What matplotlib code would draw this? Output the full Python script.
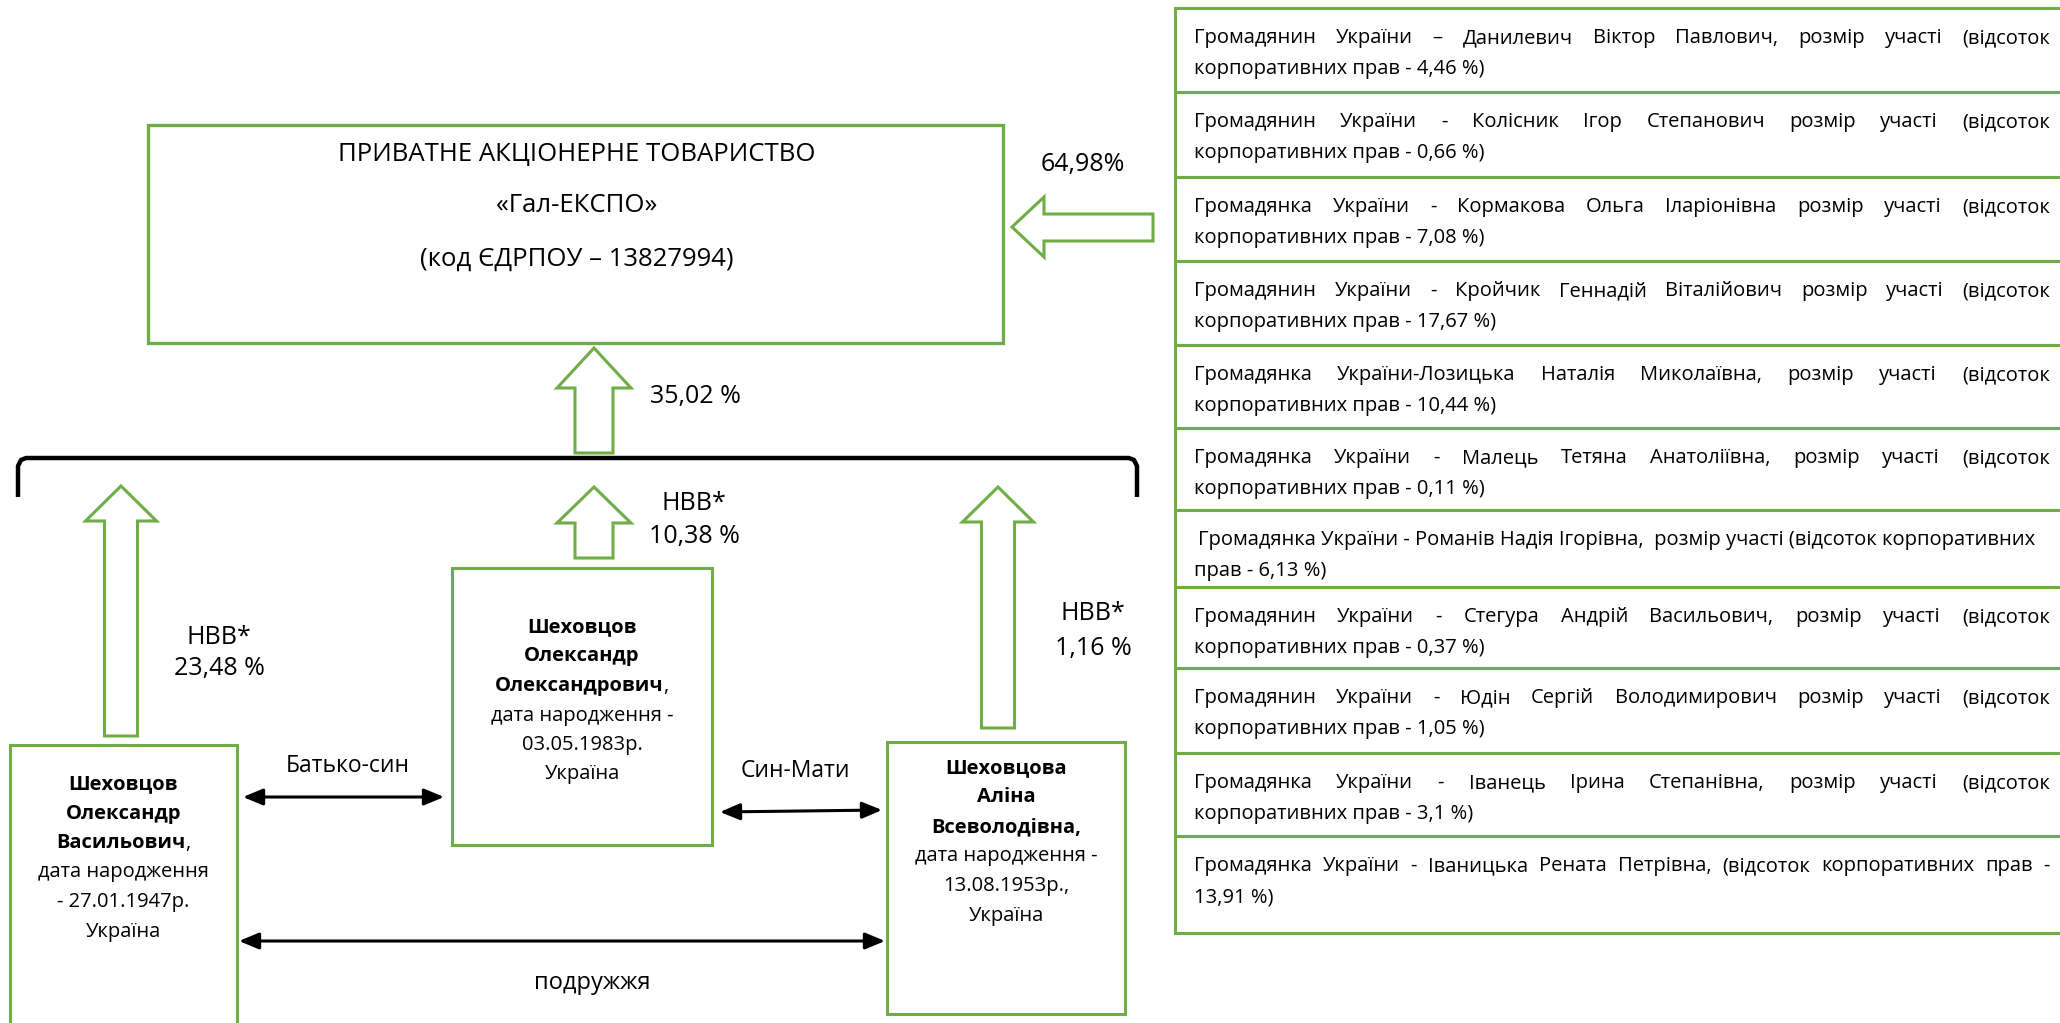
import matplotlib
matplotlib.use('Agg')
import matplotlib.pyplot as plt
from matplotlib.patches import Rectangle, Polygon

plt.rcParams['font.family'] = ['Open Sans', 'DejaVu Sans']

GREEN = '#70AD47'

# chart content
company_lines = ['ПРИВАТНЕ АКЦІОНЕРНЕ ТОВАРИСТВО', '«Гал-ЕКСПО»', '(код ЄДРПОУ – 13827994)']
other_share = '64,98%'
family_share = '35,02 %'

person_names = [['Шеховцов', 'Олександр', 'Васильович'],
                ['Шеховцов', 'Олександр', 'Олександрович'],
                ['Шеховцова', 'Аліна', 'Всеволодівна,']]
person_details = [['дата народження', '- 27.01.1947р.', 'Україна'],
                  ['дата народження -', '03.05.1983р.', 'Україна'],
                  ['дата народження -', '13.08.1953р.,', 'Україна']]
person_shares = ['23,48 %', '10,38 %', '1,16 %']
share_note = 'НВВ*'
relations = ['Батько-син', 'Син-Мати', 'подружжя']

holder_line1 = [
    'Громадянин України – Данилевич Віктор Павлович, розмір участі (відсоток',
    'Громадянин України - Колісник Ігор Степанович розмір участі (відсоток',
    'Громадянка України - Кормакова Ольга Іларіонівна розмір участі (відсоток',
    'Громадянин України - Кройчик Геннадій Віталійович розмір участі (відсоток',
    'Громадянка України-Лозицька Наталія Миколаївна, розмір участі (відсоток',
    'Громадянка України - Малець Тетяна Анатоліївна, розмір участі (відсоток',
    'Громадянка України - Романів Надія Ігорівна,  розмір участі (відсоток корпоративних',
    'Громадянин України - Стегура Андрій Васильович, розмір участі (відсоток',
    'Громадянин України - Юдін Сергій Володимирович розмір участі (відсоток',
    'Громадянка України - Іванець Ірина Степанівна, розмір участі (відсоток',
    'Громадянка України - Іваницька Рената Петрівна,  (відсоток корпоративних прав -',
]
holder_line2 = [
    'корпоративних прав - 4,46 %)',
    'корпоративних прав - 0,66 %)',
    'корпоративних прав - 7,08 %)',
    'корпоративних прав - 17,67 %)',
    'корпоративних прав - 10,44 %)',
    'корпоративних прав - 0,11 %)',
    'прав - 6,13 %)',
    'корпоративних прав - 0,37 %)',
    'корпоративних прав - 1,05 %)',
    'корпоративних прав - 3,1 %)',
    '13,91 %)',
]
holder_justified = [True, True, True, True, True, True, False, True, True, True, True]

# layout (pixels)
holder_tops = [8, 92, 177, 261, 345, 428, 510, 587, 668, 753, 836, 933]
person_boxes = [(10, 745, 237, 1040), (452, 568, 712, 845), (887, 742, 1125, 1014)]
person_text_y = [784, 627, 768]
LINE = 29.5
BODY = 14.5
BIG = 18

fig = plt.figure(figsize=(20.6, 10.23), dpi=100)
ax = fig.add_axes([0, 0, 1, 1])
ax.set_xlim(0, 2060)
ax.set_ylim(1023, 0)
ax.axis('off')
renderer = fig.canvas.get_renderer()


def box(x0, y0, x1, y1, lw=2.2):
    ax.add_patch(Rectangle((x0, y0), x1 - x0, y1 - y0, fc='white', ec=GREEN, lw=lw))


def up_arrow(cx, tip, base, bottom, head_w, shaft_w):
    pts = [(cx, tip), (cx + head_w / 2, base), (cx + shaft_w / 2, base),
           (cx + shaft_w / 2, bottom), (cx - shaft_w / 2, bottom),
           (cx - shaft_w / 2, base), (cx - head_w / 2, base)]
    ax.add_patch(Polygon(pts, closed=True, fc='white', ec=GREEN, lw=2.2, joinstyle='miter'))


def both_arrow(x0, x1, y0, y1):
    ax.annotate('', xy=(x1, y1), xytext=(x0, y0),
                arrowprops=dict(arrowstyle='<|-|>,head_length=0.6,head_width=0.25',
                                color='black', lw=2.2, mutation_scale=20,
                                shrinkA=0, shrinkB=0))


def width(t):
    return t.get_window_extent(renderer).width


def justify(text, x0, x1, y, size):
    words = text.split()
    items = [ax.text(0, y, w, fontsize=size, va='center', ha='left') for w in words]
    widths = [width(t) for t in items]
    gap = (x1 - x0 - sum(widths)) / (len(words) - 1)
    x = x0
    for t, w in zip(items, widths):
        t.set_x(x)
        x += w + gap


# company box
box(148, 125, 1003, 343, lw=2.4)
for text, y in zip(company_lines, [154, 206, 259]):
    ax.text(577, y, text, fontsize=18.5, ha='center', va='center')

# arrow from other holders
pts = [(1012, 227), (1044, 197), (1044, 214), (1153, 214),
       (1153, 241), (1044, 241), (1044, 257)]
ax.add_patch(Polygon(pts, closed=True, fc='white', ec=GREEN, lw=2.2, joinstyle='miter'))
ax.text(1083, 164, other_share, fontsize=BIG, ha='center', va='center')

# family arrow and brace
up_arrow(594, 348, 388, 453, 74, 38)
ax.text(695, 397, family_share, fontsize=BIG, ha='center', va='center')
bx = [18, 18, 21, 26, 1129, 1134, 1137, 1137]
by = [497, 466, 460, 458, 458, 460, 466, 497]
ax.plot(bx, by, color='black', lw=3.2, solid_joinstyle='round', solid_capstyle='butt')

# persons
up_arrow(121, 486, 521, 736, 71, 33)
up_arrow(594, 487, 523, 558, 74, 38)
up_arrow(998, 487, 522, 728, 71, 33)
share_pos = [(219, 637, 669), (694, 503, 536), (1093, 613, 649)]
for share, (x, y0, y1) in zip(person_shares, share_pos):
    ax.text(x, y0, share_note, fontsize=BIG, ha='center', va='center')
    ax.text(x, y1, share, fontsize=BIG, ha='center', va='center')

for (x0, y0, x1, y1), names, details, ty in zip(person_boxes, person_names,
                                                 person_details, person_text_y):
    box(x0, y0, x1, y1)
    cx = (x0 + x1) / 2
    for i, line in enumerate(names):
        y = ty + i * LINE
        if i == len(names) - 1 and not line.endswith(','):
            # bold name followed by a regular comma
            tb = ax.text(0, y, line, fontsize=BODY, fontweight='bold', ha='left', va='center')
            tc = ax.text(0, y, ',', fontsize=BODY, ha='left', va='center')
            wb = width(tb)
            start = cx - (wb + width(tc)) / 2
            tb.set_x(start)
            tc.set_x(start + wb)
        else:
            ax.text(cx, y, line, fontsize=BODY, fontweight='bold', ha='center', va='center')
    for i, line in enumerate(details):
        ax.text(cx, ty + (i + len(names)) * LINE, line, fontsize=BODY,
                ha='center', va='center')

both_arrow(243, 444, 797, 797)
ax.text(348, 766, relations[0], fontsize=16.5, ha='center', va='center')
both_arrow(720, 882, 812, 810)
ax.text(795, 771, relations[1], fontsize=16.5, ha='center', va='center')
both_arrow(239, 885, 941, 941)
ax.text(592, 983, relations[2], fontsize=17, ha='center', va='center')

# other holders
for i in range(len(holder_line1)):
    top, bottom = holder_tops[i], holder_tops[i + 1]
    box(1175, top, 2100, bottom)
    if holder_justified[i]:
        justify(holder_line1[i], 1194, 2050, top + 30, BODY)
    else:
        ax.text(1198, top + 30, holder_line1[i], fontsize=BODY, ha='left', va='center')
    ax.text(1194, top + 61, holder_line2[i], fontsize=BODY, ha='left', va='center')

fig.savefig('out.png', dpi=100)
